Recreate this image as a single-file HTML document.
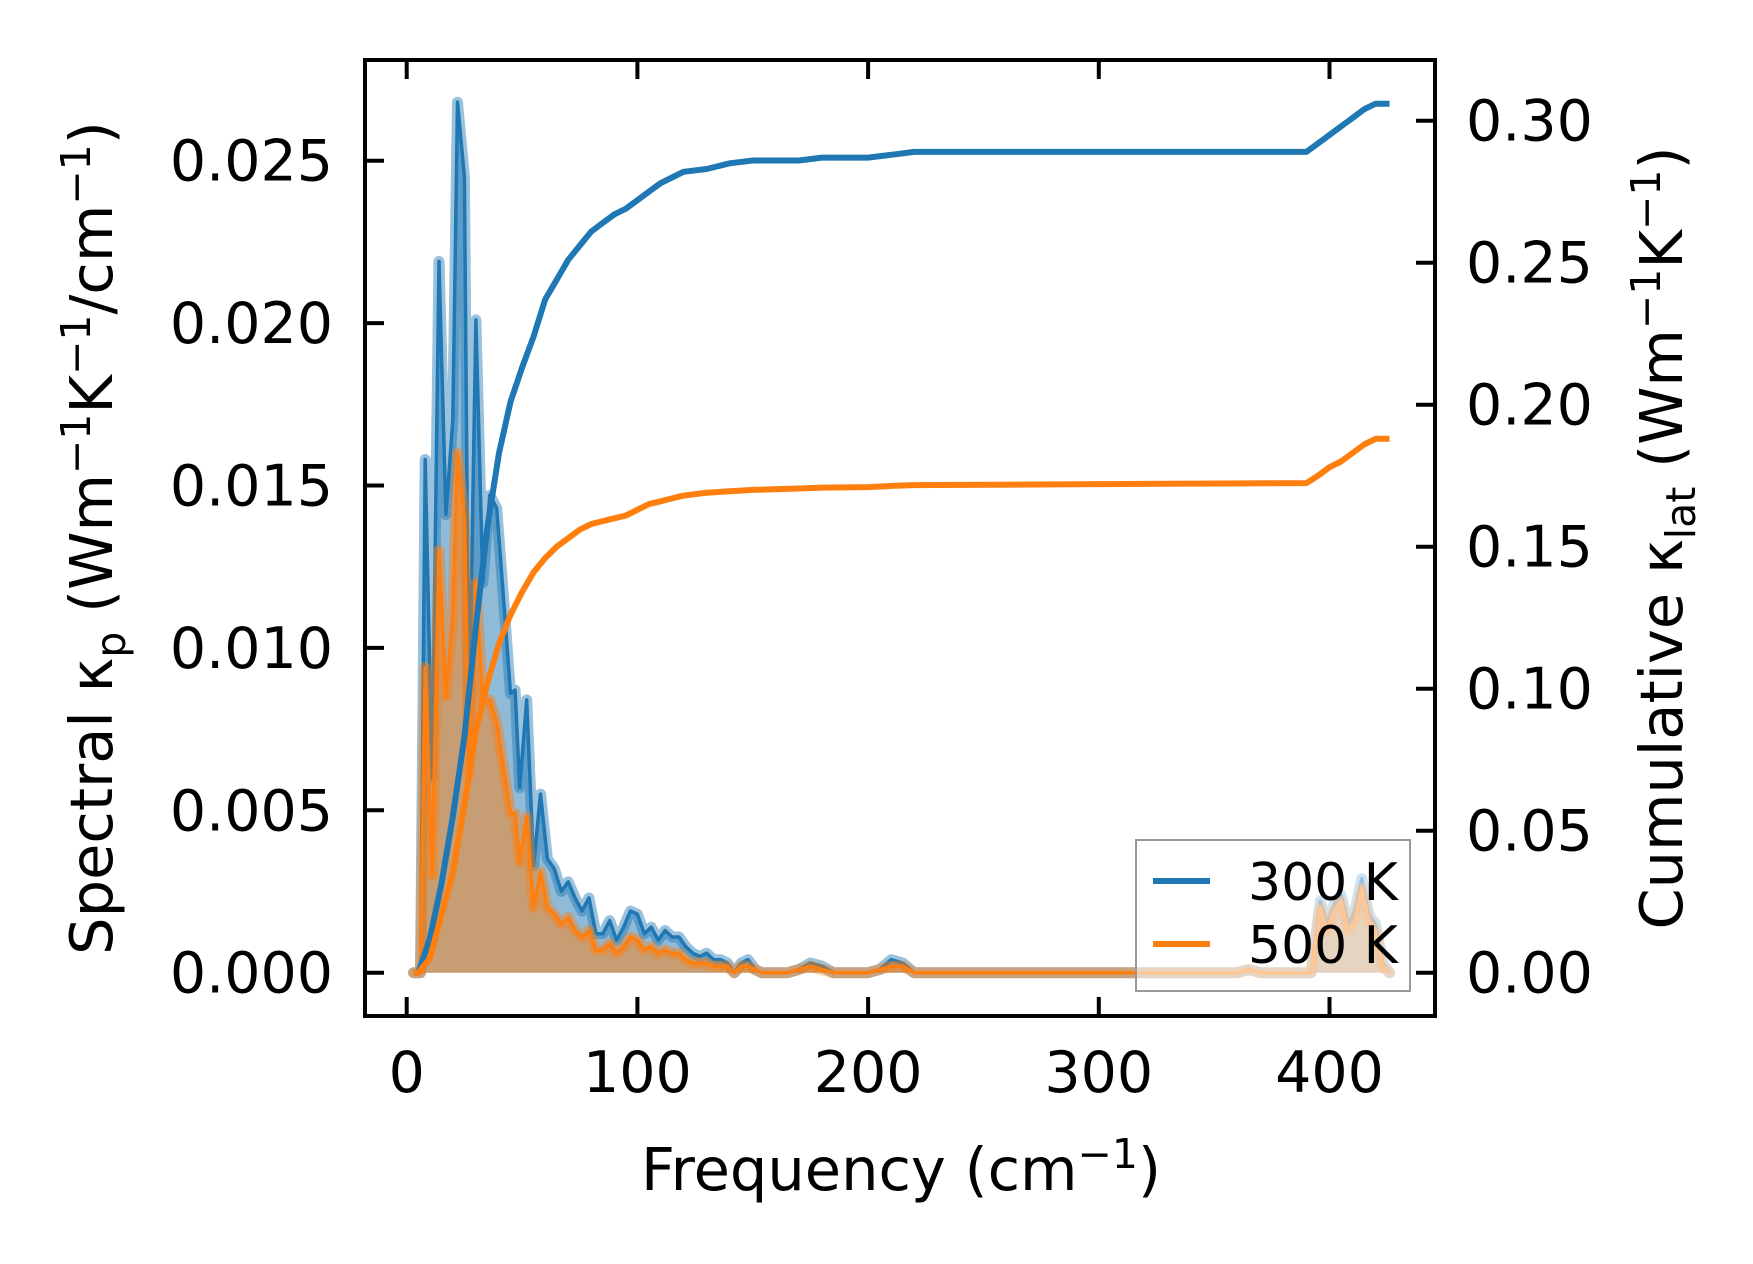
<!DOCTYPE html>
<html><head><meta charset="utf-8"><style>
html,body{margin:0;padding:0;background:#fff;}
svg{display:block;font-family:"DejaVu Sans","Liberation Sans",sans-serif;}
</style></head><body>
<svg id="chart" width="1753" height="1264" viewBox="0 0 1753 1264" xmlns="http://www.w3.org/2000/svg">
<rect width="1753" height="1264" fill="#fff"/>
<g id="plot"></g>
<g id="axes"></g>
</svg>
<script>
const freqSpec = [3,6,8,11,14,17,20,22,25,27,30,33,36,39,42,45,47,49,52,55,58,61,64,67,70,73,76,79,82,85,88,91,94,97,100,103,106,109,112,115,118,121,124,127,130,133,136,139,142,145,148,151,154,165,170,175,180,185,200,205,210,215,220,360,365,370,392,396,399,402,405,408,411,414,417,420,423,426];
const spec300 = [0,0,0.0158,0.0060,0.0219,0.0141,0.0170,0.0268,0.0245,0.0075,0.0201,0.0120,0.0147,0.0143,0.0115,0.0086,0.0087,0.0057,0.0084,0.0033,0.0055,0.0035,0.0032,0.0025,0.0028,0.0023,0.0019,0.0023,0.0012,0.0012,0.0016,0.0010,0.0014,0.0019,0.0018,0.0012,0.0014,0.0010,0.0013,0.0011,0.0011,0.0008,0.0006,0.0005,0.0006,0.0004,0.0004,0.0003,0.0000,0.0003,0.0004,0.0001,0,0,0.0001,0.0003,0.0002,0,0,0.0001,0.0004,0.0003,0,0,0.0001,0,0,0.0022,0.0015,0.0021,0.0024,0.0015,0.0019,0.0029,0.0018,0.0015,0.0003,0];
const spec500 = [0,0,0.0094,0.0030,0.0130,0.0085,0.0110,0.0160,0.0140,0.0061,0.0120,0.0083,0.0084,0.0077,0.0063,0.0049,0.0049,0.0034,0.0048,0.0020,0.0031,0.0020,0.0018,0.0015,0.0017,0.0013,0.0011,0.0013,0.0007,0.0007,0.0009,0.0006,0.0008,0.0011,0.0010,0.0007,0.0008,0.0006,0.0007,0.0006,0.0006,0.0004,0.0003,0.0003,0.0003,0.0002,0.0002,0.0002,0.0000,0.0002,0.0002,0.0001,0,0,0.0001,0.0002,0.0001,0,0,0.0001,0.0002,0.0002,0,0,0.0001,0,0,0.0020,0.0013,0.0019,0.0022,0.0013,0.0016,0.0026,0.0016,0.0013,0.0002,0];
const freqCum = [3,5,10,15,20,25,30,35,40,45,50,55,60,65,70,75,80,85,90,95,100,105,110,115,120,130,140,150,170,180,200,210,220,390,395,400,405,410,415,420,426];
const cum300 = [0,0,0.012,0.031,0.055,0.083,0.122,0.157,0.183,0.201,0.213,0.224,0.237,0.244,0.251,0.256,0.261,0.264,0.267,0.269,0.272,0.275,0.278,0.280,0.282,0.283,0.285,0.286,0.286,0.287,0.287,0.288,0.289,0.289,0.292,0.295,0.298,0.301,0.304,0.306,0.306];
const cum500 = [0,0,0.005,0.020,0.035,0.059,0.085,0.102,0.116,0.126,0.134,0.141,0.146,0.150,0.153,0.156,0.158,0.159,0.160,0.161,0.163,0.165,0.166,0.167,0.168,0.169,0.1695,0.170,0.1705,0.1708,0.1710,0.1714,0.1717,0.1724,0.175,0.178,0.180,0.183,0.186,0.188,0.188];
const xTicks = [0,100,200,300,400];
const yLeftTicks = [0,0.005,0.010,0.015,0.020,0.025];
const yLeftLabels = ["0.000","0.005","0.010","0.015","0.020","0.025"];
const yRightTicks = [0,0.05,0.10,0.15,0.20,0.25,0.30];
const yRightLabels = ["0.00","0.05","0.10","0.15","0.20","0.25","0.30"];

const NS="http://www.w3.org/2000/svg";
const L=365,R=1435,T=60,B=1016;
const X=f=>406.7+f*2.307;
const YL=v=>972.7-v/0.005*162.4;
const YR=v=>972.7-v/0.05*142;
function mk(tag,attrs,parent){const e=document.createElementNS(NS,tag);for(const k in attrs)e.setAttribute(k,attrs[k]);parent.appendChild(e);return e;}
const plot=document.getElementById('plot'), axes=document.getElementById('axes');

function linePath(xs,ys,yf){return xs.map((f,i)=>(i?'L':'M')+X(f).toFixed(1)+','+yf(ys[i]).toFixed(1)).join(' ');}
function areaPath(xs,ys){return linePath(xs,ys,YL)+' L'+X(xs[xs.length-1]).toFixed(1)+','+YL(0)+' L'+X(xs[0]).toFixed(1)+','+YL(0)+' Z';}

let e;
e=mk('path',{d:areaPath(freqSpec,spec300),fill:'rgba(31,119,180,0.5)',stroke:'none'},plot);


e=mk('path',{d:linePath(freqSpec,spec300,YL),fill:'none',stroke:'rgba(31,119,180,0.45)','stroke-width':11,'stroke-linejoin':'round','stroke-linecap':'round'},plot);


e=mk('path',{d:linePath(freqSpec,spec300,YL),fill:'none',stroke:'#1f77b4','stroke-width':3.5,'stroke-linejoin':'round'},plot);


e=mk('path',{d:areaPath(freqSpec,spec500),fill:'rgba(255,127,14,0.5)',stroke:'none'},plot);


e=mk('path',{d:linePath(freqSpec,spec500,YL),fill:'none',stroke:'rgba(255,127,14,0.45)','stroke-width':11,'stroke-linejoin':'round','stroke-linecap':'round'},plot);


e=mk('path',{d:linePath(freqSpec,spec500,YL),fill:'none',stroke:'#ff7f0e','stroke-width':3.5,'stroke-linejoin':'round'},plot);


e=mk('path',{d:linePath(freqCum,cum300,YR),fill:'none',stroke:'#1f77b4','stroke-width':6,'stroke-linejoin':'round'},plot);


e=mk('path',{d:linePath(freqCum,cum500,YR),fill:'none',stroke:'#ff7f0e','stroke-width':6,'stroke-linejoin':'round'},plot);



xTicks.forEach(t=>{
  const x=X(t);
  let a=mk('line',{x1:x,x2:x,y1:B,y2:B-19,stroke:'#000','stroke-width':4},axes);
  
  
  a=mk('line',{x1:x,x2:x,y1:T,y2:T+19,stroke:'#000','stroke-width':4},axes);
  
  
  a=mk('text',{x:x,y:1092,'font-size':57,'text-anchor':'middle',fill:'#000'},axes);
  a.textContent=t;
  
  
});
yLeftTicks.forEach((t,i)=>{
  const y=YL(t);
  let a=mk('line',{x1:L,x2:L+19,y1:y,y2:y,stroke:'#000','stroke-width':4},axes);
  
  
  a=mk('text',{x:333,y:y+20,'font-size':57,'text-anchor':'end',fill:'#000'},axes);
  a.textContent=yLeftLabels[i];
  
  
});
yRightTicks.forEach((t,i)=>{
  const y=YR(t);
  let a=mk('line',{x1:R,x2:R-19,y1:y,y2:y,stroke:'#000','stroke-width':4},axes);
  
  
  a=mk('text',{x:1466,y:y+20,'font-size':57,'text-anchor':'start',fill:'#000'},axes);
  a.textContent=yRightLabels[i];
  
  
});
</script>
<script>
(function(){
const svg=document.getElementById('chart');
svg.insertAdjacentHTML('beforeend',`
<rect x="365" y="60" width="1070" height="956" fill="none" stroke="#000" stroke-width="4"/>
<g>
<rect x="1136" y="840" width="274" height="151" fill="rgba(255,255,255,0.55)" stroke="#999" stroke-width="2"/>
<line x1="1153" x2="1210" y1="881" y2="881" stroke="#1f77b4" stroke-width="6"/>
<text x="1248" y="900" font-size="52">300 K</text>
<line x1="1153" x2="1210" y1="944" y2="944" stroke="#ff7f0e" stroke-width="6"/>
<text x="1248" y="963" font-size="52">500 K</text>
</g>
<text x="901" y="1190" font-size="59" text-anchor="middle">Frequency (cm<tspan dy="-22" font-size="41">−1</tspan><tspan dy="22">)</tspan></text>
<text transform="translate(112,538) rotate(-90)" font-size="59" text-anchor="middle">Spectral κ<tspan dy="13" font-size="41">p</tspan><tspan dy="-13"> (Wm</tspan><tspan dy="-22" font-size="41">−1</tspan><tspan dy="22">K</tspan><tspan dy="-22" font-size="41">−1</tspan><tspan dy="22">/cm</tspan><tspan dy="-22" font-size="41">−1</tspan><tspan dy="22">)</tspan></text>
<text transform="translate(1682,538) rotate(-90)" font-size="59" text-anchor="middle">Cumulative κ<tspan dy="13" font-size="41">lat</tspan><tspan dy="-13"> (Wm</tspan><tspan dy="-22" font-size="41">−1</tspan><tspan dy="22">K</tspan><tspan dy="-22" font-size="41">−1</tspan><tspan dy="22">)</tspan></text>
`);
})();
</script>
</body></html>
